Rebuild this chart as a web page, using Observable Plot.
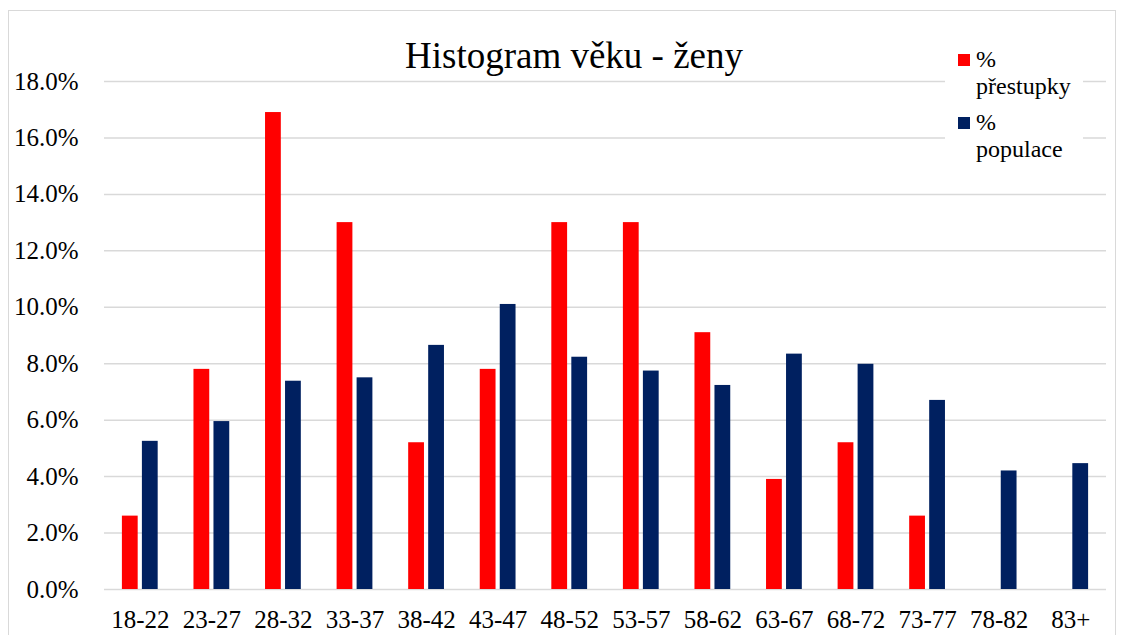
<!DOCTYPE html>
<html>
<head>
<meta charset="utf-8">
<script src="https://cdn.jsdelivr.net/npm/d3@7"></script>
<script src="https://cdn.jsdelivr.net/npm/@observablehq/plot@0.6"></script>
<style>
  html, body { margin: 0; padding: 0; background: #fff; }
  #wrap { position: relative; width: 1124px; height: 635px; overflow: hidden; font-family: "Liberation Serif", "Times New Roman", serif; color: #000; }
  #wrap svg, #wrap svg text { font-family: "Liberation Serif", "Times New Roman", serif !important; }
  #border { position: absolute; left: 8px; top: 10px; width: 1108px; height: 660px; border: 1.5px solid #d9d9d9; box-sizing: border-box; pointer-events: none; }
  #title { position: absolute; left: 574px; top: 36.5px; transform: translateX(-50%); font-family: "Liberation Serif", serif; font-size: 37px; line-height: 37px; white-space: nowrap; }
  #legend { position: absolute; left: 945px; top: 46px; width: 138px; height: 120px; background: #fff; }
  .item { position: absolute; left: 31px; width: 104px; font-family: "Liberation Serif", serif; font-size: 24px; line-height: 27px; }
  .sw { position: absolute; left: -18px; top: 8px; width: 12px; height: 12px; }
</style>
</head>
<body>
<div id="wrap">
  <div id="chart"></div>
  <div id="title"></div>
  <div id="legend"></div>
  <div id="border"></div>
</div>
<script>
const title = "Histogram věku - ženy";
const categories = ["18-22", "23-27", "28-32", "33-37", "38-42", "43-47", "48-52", "53-57", "58-62", "63-67", "68-72", "73-77", "78-82", "83+"];
const prestupky = [2.6, 7.8, 16.9, 13.0, 5.2, 7.8, 13.0, 13.0, 9.1, 3.9, 5.2, 2.6, null, null];
const populace = [5.25, 5.95, 7.38, 7.5, 8.65, 10.1, 8.23, 7.74, 7.23, 8.34, 7.98, 6.7, 4.2, 4.46];
const yTicks = [0, 2, 4, 6, 8, 10, 12, 14, 16, 18];
const seriesNames = ["% přestupky", "% populace"];
const seriesColors = ["#ff0000", "#002060"];

const rowsA = categories.map((c, i) => ({cat: c, v: prestupky[i]})).filter(d => d.v != null);
const rowsB = categories.map((c, i) => ({cat: c, v: populace[i]}));

const plot = Plot.plot({
  width: 1124,
  height: 635,
  marginLeft: 104,
  marginRight: 18,
  marginTop: 81,
  marginBottom: 46,
  style: {fontFamily: "'Liberation Serif', 'Times New Roman', serif", fontSize: "25px", color: "#000", background: "transparent"},
  x: {type: "band", domain: categories, paddingInner: 0.5, paddingOuter: 0.25, round: false, tickSize: 0, tickPadding: 21, label: null},
  y: {domain: [0, 18], ticks: yTicks, tickSize: 0, tickPadding: 26, tickFormat: d => d.toFixed(1) + "%", label: null},
  marks: [
    Plot.ruleY(yTicks, {stroke: "#d9d9d9", strokeWidth: 1.5}),
    Plot.barY(rowsA, {x: "cat", y: "v", fill: seriesColors[0], insetRight: 20, insetLeft: 0}),
    Plot.barY(rowsB, {x: "cat", y: "v", fill: seriesColors[1], insetLeft: 20, insetRight: 0})
  ]
});
document.getElementById("chart").appendChild(plot);
document.getElementById("title").textContent = title;

const legend = document.getElementById("legend");
const tops = [-0.5, 62.5];
seriesNames.forEach((name, i) => {
  const it = document.createElement("div");
  it.className = "item";
  it.style.top = tops[i] + "px";
  const sw = document.createElement("span");
  sw.className = "sw";
  sw.style.background = seriesColors[i];
  it.appendChild(sw);
  it.appendChild(document.createTextNode(name));
  legend.appendChild(it);
});
</script>
</body>
</html>
